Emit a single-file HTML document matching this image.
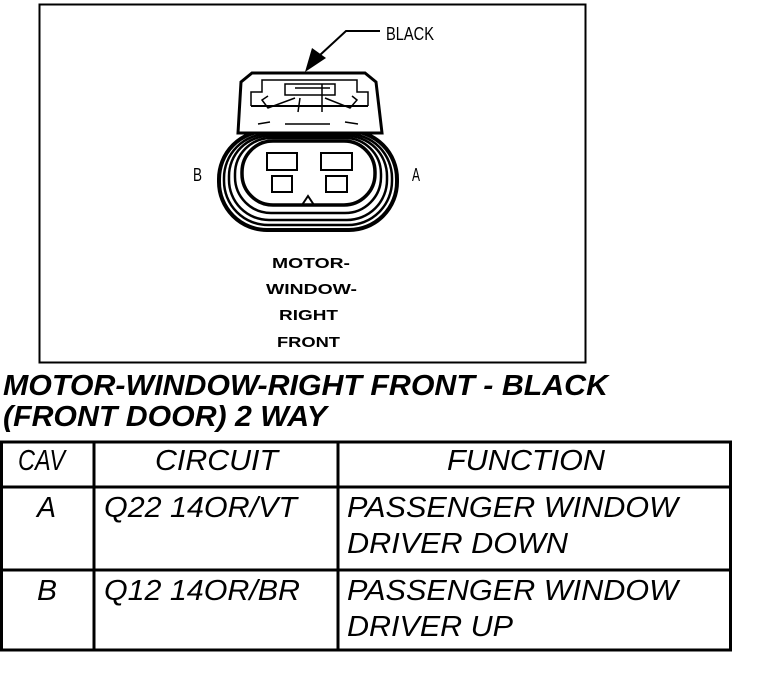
<!DOCTYPE html>
<html><head><meta charset="utf-8"><style>
html,body{margin:0;padding:0;background:#fff;}
svg{display:block;}
text{font-family:"Liberation Sans",sans-serif;fill:#000;}
.t{font-style:italic;font-size:29px;}
</style></head><body>
<svg width="768" height="682" viewBox="0 0 768 682" xmlns="http://www.w3.org/2000/svg">
<rect x="39.5" y="4.5" width="546" height="358" fill="none" stroke="#000" stroke-width="2"/>
<polyline points="380,31 346,31 320,55" fill="none" stroke="#000" stroke-width="2"/>
<polygon points="305,72 312,48 326,58" fill="#000"/>
<text x="386" y="40" font-size="18" textLength="48" lengthAdjust="spacingAndGlyphs">BLACK</text>
<g fill="none" stroke="#000">
<rect x="219" y="131" width="178" height="99" rx="48" ry="48" stroke-width="4"/>
<rect x="224" y="134" width="168" height="91" rx="44" ry="44" stroke-width="2.5"/>
<rect x="229" y="136" width="158" height="84" rx="40" ry="40" stroke-width="2.5"/>
<rect x="235" y="138" width="146" height="75" rx="36" ry="36" stroke-width="2.5"/>
<rect x="242" y="141" width="133" height="64" rx="31" ry="31" stroke-width="3.5"/>
</g>
<path d="M238,133 L241,82 L252,73 L365,73 L376,82 L382,133 Z" fill="#fff" stroke="#000" stroke-width="3"/>
<g fill="none" stroke="#000" stroke-width="1.5">
<polyline points="251,106 251,92 262,92 262,80 357,80 357,92 368,92 368,106"/>
<line x1="251" y1="106" x2="368" y2="106" stroke-width="2"/>
<rect x="285" y="84" width="50" height="11"/>
<line x1="295" y1="88" x2="330" y2="88"/>
<line x1="322" y1="84" x2="322" y2="112"/>
<polyline points="268,96 262,100 268,108 295,98"/>
<polyline points="352,96 357,100 350,108 325,98"/>
<line x1="300" y1="98" x2="298" y2="112"/>
<line x1="258" y1="124" x2="270" y2="122"/>
<line x1="285" y1="124" x2="330" y2="124"/>
<line x1="345" y1="122" x2="358" y2="124"/>
</g>
<g fill="none" stroke="#000" stroke-width="2">
<rect x="267" y="153" width="30" height="17"/>
<rect x="321" y="153" width="31" height="17"/>
<rect x="272" y="176" width="20" height="16"/>
<rect x="326" y="176" width="21" height="16"/>
<polyline points="302,205 308,196 314,205"/>
</g>
<text x="193" y="181" font-size="18" textLength="9" lengthAdjust="spacingAndGlyphs">B</text>
<text x="412" y="181" font-size="18" textLength="8" lengthAdjust="spacingAndGlyphs">A</text>
<g font-size="15" font-weight="bold">
<text x="272" y="268" textLength="78" lengthAdjust="spacingAndGlyphs">MOTOR-</text>
<text x="266" y="294" textLength="91" lengthAdjust="spacingAndGlyphs">WINDOW-</text>
<text x="279" y="320" textLength="59" lengthAdjust="spacingAndGlyphs">RIGHT</text>
<text x="277" y="347" textLength="63" lengthAdjust="spacingAndGlyphs">FRONT</text>
</g>
<text x="3" y="395" font-size="29" font-style="italic" font-weight="bold" textLength="605" lengthAdjust="spacingAndGlyphs">MOTOR-WINDOW-RIGHT FRONT - BLACK</text>
<text x="3" y="426" font-size="29" font-style="italic" font-weight="bold" textLength="324" lengthAdjust="spacingAndGlyphs">(FRONT DOOR) 2 WAY</text>
<g stroke="#000" stroke-width="3" fill="none">
<rect x="1.5" y="442" width="729" height="208"/>
<line x1="1" y1="487" x2="731" y2="487"/>
<line x1="1" y1="570" x2="731" y2="570"/>
<line x1="94" y1="442" x2="94" y2="650"/>
<line x1="338" y1="442" x2="338" y2="650"/>
</g>
<g class="t">
<text x="18" y="470" textLength="47" lengthAdjust="spacingAndGlyphs">CAV</text>
<text x="155" y="470" textLength="123" lengthAdjust="spacingAndGlyphs">CIRCUIT</text>
<text x="447" y="470" textLength="158" lengthAdjust="spacingAndGlyphs">FUNCTION</text>
<text x="37" y="517" textLength="19" lengthAdjust="spacingAndGlyphs">A</text>
<text x="104" y="517" textLength="193" lengthAdjust="spacingAndGlyphs">Q22 14OR/VT</text>
<text x="347" y="517" textLength="331" lengthAdjust="spacingAndGlyphs">PASSENGER WINDOW</text>
<text x="347" y="553" textLength="221" lengthAdjust="spacingAndGlyphs">DRIVER DOWN</text>
<text x="37" y="600" textLength="20" lengthAdjust="spacingAndGlyphs">B</text>
<text x="104" y="600" textLength="196" lengthAdjust="spacingAndGlyphs">Q12 14OR/BR</text>
<text x="347" y="600" textLength="331" lengthAdjust="spacingAndGlyphs">PASSENGER WINDOW</text>
<text x="347" y="636" textLength="166" lengthAdjust="spacingAndGlyphs">DRIVER UP</text>
</g>
</svg>
</body></html>
